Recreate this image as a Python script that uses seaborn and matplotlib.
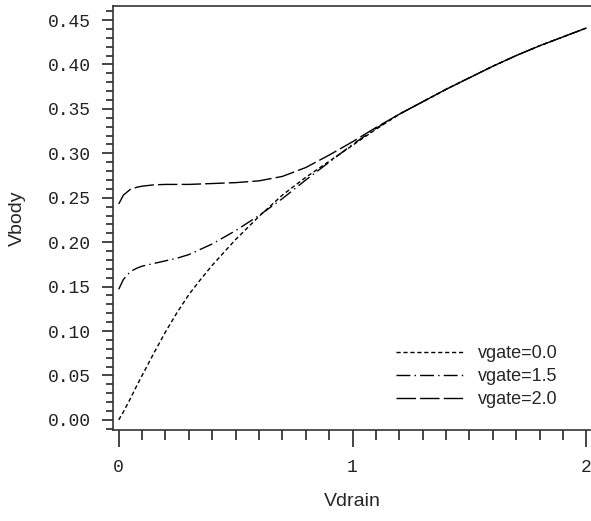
import matplotlib
matplotlib.use("Agg")
import matplotlib.pyplot as plt
from matplotlib.ticker import MultipleLocator, FixedLocator
import seaborn as sns
import pandas as pd

# values
vdrain = [0.0, 0.02, 0.05, 0.08, 0.1, 0.15, 0.2, 0.25, 0.3, 0.35, 0.4, 0.5, 0.6, 0.7,
          0.8, 0.9, 1.0, 1.1, 1.2, 1.3, 1.4, 1.5, 1.6, 1.7, 1.8, 1.9, 2.0]
vbody_00 = [0.0, 0.009, 0.024, 0.040, 0.050, 0.075, 0.099, 0.121, 0.141, 0.158, 0.174,
            0.203, 0.229, 0.253, 0.273, 0.291, 0.309, 0.327, 0.344, 0.358, 0.372,
            0.385, 0.398, 0.410, 0.421, 0.431, 0.441]
vbody_15 = [0.147, 0.158, 0.167, 0.171, 0.173, 0.176, 0.179, 0.182, 0.186, 0.192, 0.198,
            0.213, 0.230, 0.249, 0.270, 0.290, 0.310, 0.328, 0.344, 0.358, 0.372,
            0.385, 0.398, 0.410, 0.421, 0.431, 0.441]
vbody_20 = [0.243, 0.253, 0.2595, 0.262, 0.263, 0.2645, 0.265, 0.265, 0.265, 0.2655, 0.266,
            0.267, 0.269, 0.274, 0.284, 0.298, 0.313, 0.329, 0.344, 0.358, 0.372,
            0.385, 0.398, 0.410, 0.421, 0.431, 0.441]
labels = ["vgate=0.0", "vgate=1.5", "vgate=2.0"]

df = pd.concat([
    pd.DataFrame({"Vdrain": vdrain, "Vbody": v, "vgate": lab})
    for v, lab in zip([vbody_00, vbody_15, vbody_20], labels)
])

sns.set_style("ticks")
fig = plt.figure(figsize=(5.91, 5.21), dpi=100)
ax = fig.add_axes([0.191, 0.175, 0.809, 0.8135])

dashes = {"vgate=0.0": (3, 2), "vgate=1.5": (10, 3, 1, 3), "vgate=2.0": (14, 3)}
sns.lineplot(data=df, x="Vdrain", y="Vbody", style="vgate", dashes=dashes,
             color="black", linewidth=1.0, ax=ax)

ax.set_xlim(-0.025, 2.02)
ax.set_ylim(-0.0112, 0.4658)
ax.xaxis.set_major_locator(FixedLocator([0, 1, 2]))
ax.xaxis.set_minor_locator(MultipleLocator(0.1))
ax.yaxis.set_major_locator(MultipleLocator(0.05))
ax.yaxis.set_minor_locator(MultipleLocator(0.01))
ax.set_yticklabels([f"{v:.2f}" for v in ax.get_yticks()])

for s in ["top", "left", "bottom"]:
    ax.spines[s].set_linewidth(1.2)
    ax.spines[s].set_color("#333333")
ax.spines["right"].set_visible(False)

ax.tick_params(axis="y", which="major", length=8, width=1.2, pad=8)
ax.tick_params(axis="y", which="minor", length=5, width=1.2)
ax.tick_params(axis="x", which="major", length=12, width=1.2, pad=9)
ax.tick_params(axis="x", which="minor", length=7, width=1.2)
for t in ax.get_xticklabels() + ax.get_yticklabels():
    t.set_family("Liberation Mono")
    t.set_fontsize(13)
    t.set_color("#222222")

ax.set_xlabel("Vdrain", family="Liberation Sans", fontsize=14, labelpad=12)
ax.set_ylabel("Vbody", family="Liberation Sans", fontsize=14, labelpad=16)

leg = ax.legend(loc="lower right", frameon=False, title=None, handlelength=3.8,
                handletextpad=0.72, labelspacing=0.35,
                prop={"family": "Liberation Sans", "size": 13},
                bbox_to_anchor=(0.964, 0.012))

fig.savefig("out.png", dpi=100)
